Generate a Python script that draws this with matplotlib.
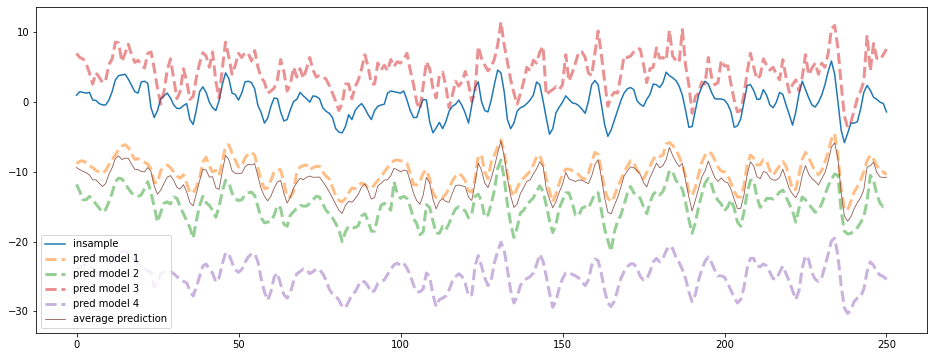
import numpy as np
import matplotlib
matplotlib.use("Agg")
import matplotlib.pyplot as plt

insample = [
    1.0, 1.5, 1.4, 1.3, 1.4, 0.3, 0.25, -0.2, -0.4, -0.4,
    0.3, 1.5, 3.2, 3.8, 3.9, 4.0, 3.3, 2.4, 1.5, 1.3,
    2.9, 3.0, 2.7, -0.8, -2.2, -1.2, 0.5, 0.9, 1.3, 0.6,
    -0.4, -0.9, -0.9, -0.5, -0.2, -2.5, -3.2, -1.1, 1.5, 2.2,
    1.4, 0.0, -0.8, -1.2, 0.2, 2.5, 4.2, 3.4, 1.3, 1.1,
    0.3, 1.3, 2.9, 3.0, 2.8, 1.9, -0.5, -1.5, -3.0, -2.3,
    -0.6, 0.6, 0.5, -1.4, -2.7, -2.5, -1.1, 0.1, 0.4, 1.4,
    0.9, 0.5, 0.0, 0.9, 0.8, 0.5, -0.8, -1.3, -1.6, -2.2,
    -3.8, -4.3, -4.4, -3.5, -1.8, -2.5, -1.2, -0.6, -0.2, -0.9,
    -1.8, -2.5, -1.2, -0.6, -0.4, -0.3, 1.3, 1.6, 1.5, 1.4,
    1.3, 1.6, 0.3, -1.2, -2.2, -2.2, -0.8, 0.4, 0.3, -2.8,
    -4.4, -3.7, -2.9, -3.8, -2.8, -1.3, -0.6, -0.3, 0.3, -0.5,
    -1.6, -3.0, -0.4, 2.1, 2.9, 0.1, -1.2, -1.4, 0.3, 2.6,
    4.6, 4.2, 1.5, -2.5, -3.8, -3.0, -1.3, -0.8, -0.6, -0.2,
    0.3, 1.0, 2.9, 2.5, 0.2, -2.3, -4.6, -3.8, -1.5, -0.7,
    0.0, 0.9, 0.4, -0.1, -0.2, -0.5, -1.0, -1.6, 0.1, 2.5,
    3.1, 2.5, -0.3, -3.2, -4.9, -4.0, -2.6, -1.2, 0.2, 1.3,
    1.9, 2.1, 1.8, 0.2, -0.3, -0.6, 0.4, 1.1, 2.6, 2.5,
    2.1, 2.8, 4.3, 3.8, 3.5, 3.1, 2.3, 1.0, -1.2, -3.6,
    -3.5, -1.2, 1.0, 2.2, 3.0, 2.6, 1.4, 0.5, 0.45, 0.45,
    0.3, -0.3, -1.4, -3.6, -3.4, -2.4, 0.0, 2.4, 2.5, 1.7,
    0.4, 0.45, 1.8, 1.0, -0.4, -0.8, 0.0, 1.4, 1.1, -0.4,
    -1.8, -3.3, -1.4, 1.2, 3.0, 1.8, 0.6, -0.4, -0.7, 0.0,
    1.0, 2.5, 4.4, 5.9, 4.0, 0.1, -4.0, -5.8, -4.5, -3.0,
    -3.0, -2.8, -1.0, 1.4, 2.4, 1.7, 0.7, 0.4, 0.0, -0.2,
    -1.4,
]

pred_model_1 = [
    -8.8, -8.5, -8.4, -8.7, -9.1, -9.4, -9.8, -10.0, -10.2, -9.8,
    -9.0, -8.2, -7.6, -6.8, -6.3, -6.1, -6.5, -7.4, -8.2, -8.1,
    -8.3, -8.6, -8.9, -9.6, -11.5, -11.6, -9.8, -9.3, -9.0, -9.4,
    -10.0, -10.6, -10.9, -10.4, -11.6, -13.0, -13.0, -12.2, -10.9, -8.6,
    -7.9, -9.2, -10.0, -9.8, -10.5, -8.5, -6.3, -6.1, -7.3, -8.3,
    -9.3, -9.2, -8.0, -7.4, -7.2, -7.6, -9.5, -11.3, -12.4, -12.3,
    -11.2, -10.0, -9.7, -9.7, -11.5, -13.6, -13.6, -12.8, -10.0, -9.3,
    -9.1, -9.0, -9.7, -9.4, -9.2, -9.2, -10.0, -10.6, -11.0, -12.2,
    -13.4, -14.1, -14.3, -13.8, -13.0, -12.3, -12.4, -11.9, -11.6, -11.8,
    -12.3, -12.4, -11.8, -11.2, -10.7, -10.0, -9.4, -8.8, -8.4, -8.3,
    -8.4, -8.5, -8.8, -10.2, -11.8, -11.9, -11.4, -10.2, -9.7, -11.0,
    -13.0, -13.7, -13.6, -13.7, -13.2, -12.3, -11.3, -10.6, -10.2, -10.6,
    -11.3, -12.7, -12.9, -11.0, -7.7, -7.6, -10.0, -11.0, -8.6, -7.6,
    -6.4, -5.4, -7.1, -10.4, -12.6, -13.5, -12.3, -11.4, -10.9, -10.4,
    -9.9, -9.0, -7.8, -7.6, -9.0, -10.9, -12.8, -14.3, -13.2, -11.6,
    -10.3, -9.6, -9.6, -9.8, -10.0, -10.4, -10.9, -11.0, -10.2, -8.6,
    -7.2, -7.5, -9.8, -12.6, -13.8, -14.3, -13.5, -12.1, -11.2, -10.0,
    -9.2, -8.4, -8.6, -9.8, -10.2, -11.0, -10.1, -9.2, -8.2, -7.6,
    -7.8, -7.6, -6.0, -5.8, -6.2, -6.8, -7.8, -9.0, -10.6, -12.8,
    -13.4, -12.2, -10.4, -8.6, -7.6, -7.1, -7.4, -8.3, -9.3, -9.9,
    -10.0, -10.5, -11.6, -12.8, -13.6, -13.6, -12.0, -9.0, -7.6, -8.0,
    -9.0, -9.0, -8.2, -8.4, -9.8, -10.5, -9.8, -9.1, -8.5, -9.2,
    -10.8, -12.6, -12.5, -10.4, -8.2, -7.2, -8.0, -9.0, -9.9, -10.4,
    -9.8, -8.6, -7.2, -5.3, -4.5, -7.6, -12.4, -15.3, -15.5, -14.2,
    -12.9, -12.1, -11.2, -10.0, -8.4, -7.6, -8.2, -9.1, -9.7, -10.0,
    -10.4,
]

pred_model_2 = [
    -11.8, -12.8, -14.0, -14.0, -13.5, -14.0, -14.6, -15.2, -15.8, -15.4,
    -14.3, -13.0, -11.4, -10.9, -11.0, -11.6, -12.4, -13.0, -13.4, -13.5,
    -13.3, -12.4, -11.4, -13.0, -15.0, -17.2, -15.8, -14.5, -14.3, -14.6,
    -13.6, -13.8, -15.0, -16.0, -17.0, -18.0, -19.5, -17.0, -14.8, -13.5,
    -14.4, -14.8, -15.5, -16.5, -15.0, -12.8, -11.2, -11.5, -13.0, -13.9,
    -14.1, -14.0, -13.3, -13.0, -12.9, -13.4, -15.0, -16.6, -17.3, -17.2,
    -17.1, -16.2, -14.8, -15.2, -17.5, -17.8, -16.2, -15.7, -15.2, -14.8,
    -14.9, -14.9, -14.5, -14.0, -13.5, -13.6, -14.6, -15.5, -16.0, -16.6,
    -17.4, -18.3, -20.0, -18.6, -17.8, -18.0, -18.0, -17.7, -16.3, -16.0,
    -17.0, -18.5, -18.5, -16.4, -14.8, -14.5, -14.9, -15.5, -11.4, -13.1,
    -13.8, -13.5, -13.8, -15.0, -16.7, -17.4, -19.0, -18.6, -14.7, -15.1,
    -17.0, -18.8, -18.8, -17.8, -18.3, -17.4, -16.2, -15.3, -15.0, -15.3,
    -15.6, -16.6, -16.0, -13.5, -13.2, -14.2, -16.5, -16.2, -14.6, -12.6,
    -9.5, -8.3, -10.9, -14.7, -17.4, -19.4, -18.0, -15.9, -15.5, -14.7,
    -14.2, -13.7, -12.8, -12.0, -12.8, -14.8, -17.0, -18.7, -17.5, -15.2,
    -14.1, -13.0, -13.0, -14.4, -16.2, -16.3, -15.2, -15.0, -15.2, -14.2,
    -13.1, -13.0, -15.5, -18.2, -19.8, -21.4, -18.6, -17.1, -16.2, -14.7,
    -13.1, -12.1, -13.0, -13.3, -13.8, -15.0, -16.0, -14.4, -13.2, -12.8,
    -13.3, -12.8, -11.6, -9.8, -10.0, -11.2, -11.8, -12.5, -14.4, -16.8,
    -18.8, -17.3, -15.0, -13.2, -11.6, -10.9, -11.8, -13.4, -14.1, -14.6,
    -15.6, -15.0, -14.0, -15.2, -17.2, -17.8, -15.8, -13.0, -11.2, -11.2,
    -13.6, -15.1, -14.6, -13.8, -13.8, -13.9, -13.5, -12.9, -12.6, -13.6,
    -14.6, -15.6, -17.2, -15.2, -13.6, -14.0, -14.6, -15.2, -15.8, -15.4,
    -14.6, -13.3, -12.0, -11.1, -10.3, -10.5, -15.5, -18.5, -18.9, -18.8,
    -18.5, -18.0, -17.3, -16.4, -14.2, -10.5, -11.2, -13.2, -14.5, -15.0,
    -14.8,
]

pred_model_3 = [
    7.0, 6.4, 6.2, 5.5, 4.2, 2.6, 4.2, 3.6, 2.8, 3.1,
    5.4, 6.2, 8.6, 8.5, 5.8, 7.0, 8.3, 6.8, 5.7, 6.0,
    5.4, 4.9, 7.0, 7.2, 4.8, 2.0, -0.3, 1.5, 4.6, 6.2,
    3.4, 0.5, 1.5, 4.8, 3.0, 0.4, 0.8, 3.5, 5.6, 7.1,
    6.6, 5.0, 7.2, 3.0, 0.6, 4.8, 8.6, 6.5, 4.0, 5.3,
    7.0, 6.4, 7.1, 7.0, 5.9, 7.4, 5.0, 3.5, 2.9, 1.3,
    1.6, 2.0, 3.2, 6.1, 4.4, 1.6, 2.5, 5.0, 3.6, 4.8,
    3.4, 4.8, 6.4, 4.6, 3.6, 3.8, 3.7, 3.3, 2.4, 1.3,
    0.1, -1.2, -0.2, 2.6, 2.6, 0.5, 2.2, 3.2, 4.8, 6.8,
    5.1, 2.6, 2.6, 5.6, 4.6, 5.3, 4.5, 6.1, 5.1, 5.8,
    5.6, 6.2, 7.0, 4.6, 2.6, 0.0, -1.0, 2.3, 5.8, 4.8,
    2.0, 0.6, 3.8, 4.3, 2.3, -0.8, 1.0, 3.0, 2.3, 2.9,
    4.4, 2.6, 0.1, 1.5, 8.0, 6.3, 5.3, 4.5, 5.0, 6.2,
    8.2, 11.5, 8.2, 5.8, 3.2, 1.3, -0.3, 1.2, 2.9, 5.0,
    4.5, 6.0, 5.6, 7.2, 8.0, 1.0, 1.5, 1.8, 2.2, 1.8,
    2.5, 6.8, 3.0, 4.2, 5.6, 7.2, 7.2, 6.4, 4.2, 3.8,
    7.0, 10.2, 6.8, 3.0, -0.6, 0.8, 1.4, 1.3, 3.8, 6.6,
    6.4, 6.6, 7.2, 7.7, 7.6, 5.4, 2.8, 4.8, 5.0, 7.8,
    6.3, 6.4, 6.0, 10.3, 6.6, 6.0, 5.7, 10.4, 5.2, 2.5,
    -1.6, 0.8, 1.3, 2.9, 2.6, 6.4, 3.6, 2.5, 2.8, 6.0,
    5.2, 5.2, 2.6, 0.3, -1.4, -1.2, 1.0, 4.3, 7.0, 5.0,
    3.3, 3.8, 6.2, 5.3, 4.6, 5.0, 4.0, 3.2, 6.1, 3.5,
    1.4, 2.5, 3.2, 1.6, 3.6, 6.8, 3.9, 4.9, 5.6, 4.0,
    5.6, 5.0, 7.0, 10.5, 11.0, 7.8, 2.6, -2.0, -3.6, -2.9,
    -1.2, 0.5, 1.6, 3.0, 9.6, 4.5, 8.4, 6.3, 6.1, 6.8,
    7.6,
]

pred_model_4 = [
    -23.9, -23.8, -23.5, -23.3, -23.4, -23.8, -24.3, -24.9, -25.2, -24.6,
    -23.5, -22.6, -21.9, -21.6, -21.4, -21.4, -21.6, -22.0, -22.6, -23.1,
    -23.6, -23.9, -24.2, -24.4, -26.5, -26.0, -24.6, -24.3, -24.3, -24.3,
    -24.6, -25.0, -25.5, -25.7, -25.9, -27.0, -27.8, -26.5, -25.0, -23.5,
    -23.2, -24.0, -24.5, -25.8, -25.2, -23.2, -21.6, -21.8, -23.0, -24.0,
    -24.4, -24.0, -23.0, -22.2, -21.8, -21.7, -22.9, -25.3, -27.2, -28.4,
    -27.2, -25.1, -24.5, -26.1, -27.6, -28.1, -27.3, -25.7, -24.6, -24.3,
    -23.9, -24.0, -24.6, -24.3, -23.9, -24.0, -24.6, -25.5, -26.8, -27.5,
    -27.8, -28.4, -29.3, -29.5, -28.6, -27.6, -27.2, -26.3, -25.6, -25.8,
    -26.4, -27.3, -27.0, -26.0, -25.7, -25.5, -24.7, -24.0, -23.3, -23.1,
    -23.4, -23.1, -23.8, -24.8, -26.2, -27.2, -27.2, -26.8, -24.5, -25.0,
    -27.6, -29.3, -28.3, -28.1, -27.8, -26.9, -25.7, -25.0, -24.6, -25.0,
    -26.0, -27.8, -27.6, -23.5, -22.0, -23.5, -25.2, -26.3, -25.5, -23.0,
    -21.4, -20.1, -21.2, -24.0, -27.0, -28.8, -27.9, -26.3, -25.6, -25.3,
    -25.0, -24.5, -23.3, -21.8, -22.8, -25.0, -27.4, -29.4, -28.5, -26.6,
    -25.3, -24.5, -24.4, -24.7, -24.9, -25.2, -25.8, -26.3, -25.5, -23.4,
    -22.5, -22.7, -24.6, -27.0, -28.8, -29.3, -28.5, -26.9, -25.3, -24.3,
    -23.6, -23.2, -23.2, -23.8, -25.0, -25.5, -25.4, -24.3, -22.9, -22.4,
    -22.9, -22.4, -21.3, -20.6, -21.0, -22.2, -23.0, -24.0, -25.3, -27.2,
    -28.6, -27.6, -25.5, -24.0, -22.8, -22.2, -23.0, -24.1, -24.9, -24.9,
    -25.1, -26.0, -27.0, -28.0, -28.8, -28.3, -26.6, -23.8, -22.4, -22.4,
    -23.5, -23.6, -23.2, -23.5, -24.4, -25.3, -25.4, -24.4, -23.5, -24.6,
    -25.7, -27.0, -28.3, -27.0, -23.8, -22.0, -22.6, -24.5, -25.4, -25.7,
    -25.2, -23.5, -21.8, -19.9, -19.5, -22.0, -26.3, -29.5, -30.3, -29.8,
    -28.6, -28.1, -27.9, -26.8, -24.3, -22.9, -23.4, -24.3, -24.8, -25.0,
    -25.4,
]

series_labels = ["insample", "pred model 1", "pred model 2", "pred model 3",
                 "pred model 4", "average prediction"]

x = np.arange(len(insample))
models = [pred_model_1, pred_model_2, pred_model_3, pred_model_4]
average_prediction = np.mean(np.array(models), axis=0)

fig = plt.figure(figsize=(935 / 72, 357 / 72), dpi=72)
ax = fig.add_axes([36 / 935, 1 - 333 / 357, (927 - 36) / 935, (333 - 7.3) / 357])

ax.plot(x, insample, color="C0", lw=1.5, label=series_labels[0])
for i, m in enumerate(models):
    ax.plot(x, m, color=f"C{i + 1}", lw=3, ls="--", alpha=0.5,
            label=series_labels[i + 1])
ax.plot(x, average_prediction, color="C5", lw=0.8, label=series_labels[5])

ax.set_xlim(-12.5, 262.5)
ax.set_ylim(-33.1, 13.6)
ax.set_xticks([0, 50, 100, 150, 200, 250])
ax.set_yticks([-30, -20, -10, 0, 10])
ax.legend(loc="lower left", fontsize=10)

fig.savefig("out.png", dpi=72, facecolor="white")
